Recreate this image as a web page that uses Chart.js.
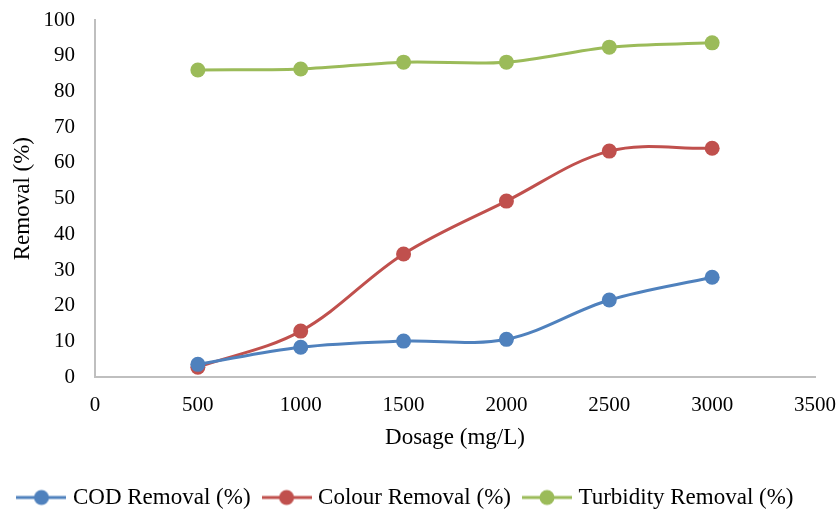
<!DOCTYPE html>
<html>
  <head>
    <title>Removal vs dosage</title>
    <style>
      html, body { margin: 0; padding: 0; background: #fff; }
      #chart { width: 840px; height: 514px; display: block; }
    </style>
  </head>
  <body>
    <canvas id="chart" width="840" height="514"></canvas>
    <script src="https://cdn.jsdelivr.net/npm/chart.js@4.4.1/dist/chart.umd.min.js"></script>
    <script>
      const dosage = [500, 1000, 1500, 2000, 2500, 3000];
      const codRemoval = [3.6, 8.4, 10.1, 10.6, 21.6, 28.0];
      const colourRemoval = [2.8, 12.9, 34.5, 49.3, 63.3, 64.1];
      const turbidityRemoval = [86.0, 86.3, 88.2, 88.2, 92.4, 93.6];
      const seriesNames = ['COD Removal (%)', 'Colour Removal (%)', 'Turbidity Removal (%)'];
      const seriesColors = ['#4F81BD', '#C0504D', '#9BBB59'];

      const serif = "'Liberation Serif', 'Times New Roman', serif";
      const tickSize = 21;
      const textSize = 23;

      // legend marker: short line with a dot in the middle, like Excel
      function legendMarker(color) {
        const c = document.createElement('canvas');
        c.width = 50;
        c.height = 18;
        const g = c.getContext('2d');
        g.strokeStyle = color;
        g.lineWidth = 3;
        g.beginPath();
        g.moveTo(0, 9);
        g.lineTo(50, 9);
        g.stroke();
        g.fillStyle = color;
        g.beginPath();
        g.arc(25, 9, 7.5, 0, Math.PI * 2);
        g.fill();
        return c;
      }

      function toPoints(values) {
        return dosage.map((d, i) => ({ x: d, y: values[i] }));
      }

      const allValues = [codRemoval, colourRemoval, turbidityRemoval];
      const datasets = allValues.map((vals, i) => ({
        label: seriesNames[i],
        data: toPoints(vals),
        borderColor: seriesColors[i],
        backgroundColor: seriesColors[i],
        borderWidth: 3,
        pointRadius: 7.5,
        pointHoverRadius: 7.5,
        pointBorderWidth: 0,
        tension: 0.35,
        legendImage: legendMarker(seriesColors[i])
      }));

      // let layout.padding alone decide the outer margins
      function noScalePadding(scale) {
        scale.paddingTop = 0;
        scale.paddingBottom = 0;
        scale.paddingLeft = 0;
        scale.paddingRight = 0;
      }

      const ctx = document.getElementById('chart').getContext('2d');
      const chart = new Chart(ctx, {
        type: 'line',
        data: { datasets: datasets },
        options: {
          responsive: false,
          animation: false,
          layout: { autoPadding: false, padding: { left: 0, right: 25, top: 20, bottom: -5 } },
          plugins: {
            tooltip: { enabled: false },
            legend: {
              position: 'bottom',
              labels: {
                color: '#000',
                font: { family: serif, size: textSize },
                usePointStyle: true,
                pointStyleWidth: 40,
                padding: 16,
                generateLabels: (ch) => ch.data.datasets.map((ds, i) => ({
                  text: ds.label,
                  pointStyle: ds.legendImage,
                  fillStyle: ds.backgroundColor,
                  strokeStyle: ds.borderColor,
                  lineWidth: 0,
                  hidden: false,
                  datasetIndex: i,
                  fontColor: '#000'
                }))
              }
            }
          },
          scales: {
            x: {
              type: 'linear',
              min: 0,
              max: 3500,
              grid: { display: false, drawTicks: false },
              border: { display: true, color: '#bfbfbf', width: 2 },
              afterFit: noScalePadding,
              ticks: {
                stepSize: 500,
                color: '#000',
                padding: 16,
                maxRotation: 0,
                font: { family: serif, size: tickSize },
                callback: (v) => String(v)
              },
              title: {
                display: true,
                text: 'Dosage (mg/L)',
                color: '#000',
                padding: { top: -10, bottom: 18 },
                font: { family: serif, size: textSize }
              }
            },
            y: {
              min: 0,
              max: 100,
              grid: { display: false, drawTicks: false },
              border: { display: true, color: '#bfbfbf', width: 2 },
              afterFit: (scale) => { scale.width = 95; noScalePadding(scale); },
              ticks: {
                stepSize: 10,
                color: '#000',
                padding: 20,
                font: { family: serif, size: tickSize },
                callback: (v) => String(v)
              },
              title: {
                display: true,
                text: 'Removal (%)',
                color: '#000',
                padding: { top: 9, bottom: 0 },
                font: { family: serif, size: textSize }
              }
            }
          }
        }
      });
    </script>
  </body>
</html>
